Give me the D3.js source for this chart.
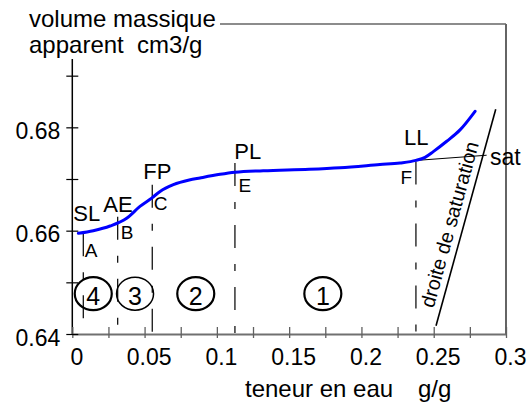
<!DOCTYPE html>
<html lang="fr">
<head>
  <meta charset="UTF-8" />
  <title>Courbe de retrait</title>
  <style>
    body {
      margin: 0;
      background: #fff;
    }

    svg {
      display: block;
      font-family: "Liberation Sans", Arial, sans-serif;
    }
  </style>
  <script src="https://d3js.org/d3.v7.min.js"></script>
</head>
<body>
  <svg id="chart" width="527" height="407"></svg>

  <script>
    // courbe de retrait : teneur en eau (g/g) et volume massique apparent (cm3/g)
    const teneur = [0.0042, 0.0145, 0.0261, 0.0376, 0.0468, 0.0549, 0.0607, 0.0699,
      0.0809, 0.0883, 0.1022, 0.1125, 0.1321, 0.1639, 0.1852, 0.2128, 0.2267,
      0.2377, 0.2440, 0.2497, 0.2590, 0.2682, 0.2786];
    const volume = [0.6595, 0.6600, 0.6609, 0.6624, 0.6647, 0.6663, 0.6676, 0.6689,
      0.6698, 0.6702, 0.6709, 0.6713, 0.6716, 0.6719, 0.6722, 0.6728, 0.6731,
      0.6736, 0.6742, 0.6753, 0.6773, 0.6795, 0.6831];

    // limites et points caracteristiques
    const limites = ["SL", "AE", "FP", "PL", "LL"];
    const points = ["A", "B", "C", "E", "F"];
    const limiteTeneur = [0.0076, 0.0314, 0.0553, 0.1125, 0.2377];
    const limiteVolume = [0.6595, 0.6627, 0.6689, 0.6731, 0.6734];

    // domaines numerotes
    const domaines = ["4", "3", "2", "1"];
    const domaineTeneur = [0.0145, 0.0434, 0.0854, 0.1733];
    const domaineVolume = 0.6478;

    // droite de saturation et ligne "sat"
    const saturationTeneur = [0.2516, 0.2929];
    const saturationVolume = [0.6416, 0.6835];
    const satTeneur = [0.2382, 0.2866];
    const satVolume = [0.6736, 0.6746];

    // graduations
    const xTicks = [0, 0.025, 0.05, 0.075, 0.1, 0.125, 0.15, 0.175, 0.2, 0.225, 0.25, 0.275, 0.3];
    const xLabelValues = [0, 0.05, 0.1, 0.15, 0.2, 0.25, 0.3];
    const xLabels = ["0", "0.05", "0.1", "0.15", "0.2", "0.25", "0.3"];
    const yTicks = [0.64, 0.65, 0.66, 0.67, 0.68, 0.69];
    const yLabelValues = [0.64, 0.66, 0.68];
    const yLabels = ["0.64", "0.66", "0.68"];

    // placement des etiquettes (decalages en px)
    const limiteDx = [-10, -14.4, -9, -0.7, -12];
    const limiteDy = [-12, -5, -5.4, -4, -16];
    const pointDx = [1.5, 3, 1.5, 3.5, -15.5];
    const pointDy = [23.5, 22.6, 25.3, 28.7, 23];

    const svg = d3.select("#chart");

    const x = d3.scaleLinear().domain([0, 0.3]).range([72.3, 506]);
    const y = d3.scaleLinear().domain([0.64, 0.70]).range([334, 24]);

    const near = (a, b) => Math.abs(a - b) < 1e-9;

    // cadre
    svg.append("line")
      .attr("x1", x(0.3)).attr("x2", x(0.3))
      .attr("y1", y(0.70)).attr("y2", y(0.64))
      .attr("stroke", "#111").attr("stroke-width", 1.3);
    svg.append("line")
      .attr("x1", x(0)).attr("x2", x(0.3))
      .attr("y1", y(0.70)).attr("y2", y(0.70))
      .attr("stroke", "#666").attr("stroke-width", 1.3);
    svg.append("line")
      .attr("x1", x(0)).attr("x2", x(0))
      .attr("y1", y(0.70)).attr("y2", y(0.64))
      .attr("stroke", "#000").attr("stroke-width", 1.5);

    // axe x
    const xAxis = svg.append("g")
      .attr("transform", `translate(0,${y(0.64)})`)
      .call(d3.axisBottom(x)
        .tickValues(xTicks)
        .tickSizeInner(4)
        .tickSizeOuter(0)
        .tickFormat(d => {
          const i = xLabelValues.findIndex(v => near(v, d));
          return i < 0 ? "" : xLabels[i];
        }));
    xAxis.select(".domain")
      .attr("stroke", "#707070")
      .attr("stroke-width", 2);
    xAxis.selectAll(".tick line")
      .attr("y1", -7)
      .attr("stroke", "#606060")
      .attr("stroke-width", 1.3);
    xAxis.selectAll(".tick text")
      .attr("y", 31)
      .attr("dy", null)
      .attr("dx", 4)
      .attr("fill", "#000")
      .style("font-size", "23px")
      .style("font-family", "'Liberation Sans', Arial, sans-serif");

    // axe y
    const yAxis = svg.append("g")
      .attr("transform", `translate(${x(0)},0)`)
      .call(d3.axisLeft(y)
        .tickValues(yTicks)
        .tickSizeInner(6)
        .tickSizeOuter(0)
        .tickFormat(d => {
          const i = yLabelValues.findIndex(v => near(v, d));
          return i < 0 ? "" : yLabels[i];
        }));
    yAxis.select(".domain").remove();
    yAxis.selectAll(".tick line")
      .attr("x1", 6)
      .attr("stroke", "#000")
      .attr("stroke-width", 1.2);
    yAxis.selectAll(".tick text")
      .attr("x", -12)
      .attr("y", 11)
      .attr("dy", null)
      .attr("fill", "#000")
      .style("font-size", "23px")
      .style("font-family", "'Liberation Sans', Arial, sans-serif");

    // titre de l'axe y (masque le haut du cadre)
    svg.append("rect")
      .attr("x", 0).attr("y", 0)
      .attr("width", 220).attr("height", 59)
      .attr("fill", "#fff");
    svg.append("text")
      .attr("x", 29).attr("y", 26.7)
      .style("font-size", "24px")
      .text("volume massique");
    svg.append("text")
      .attr("x", 29).attr("y", 52.7)
      .attr("xml:space", "preserve")
      .style("font-size", "24px")
      .style("white-space", "pre")
      .text("apparent  cm3/g");

    // titre de l'axe x
    svg.append("text")
      .attr("x", 245).attr("y", 397)
      .style("font-size", "24px")
      .text("teneur en eau");
    svg.append("text")
      .attr("x", 418).attr("y", 397)
      .style("font-size", "24px")
      .text("g/g");

    // lignes verticales des limites
    svg.selectAll(".limite")
      .data(limiteTeneur)
      .enter()
      .append("line")
      .attr("class", "limite")
      .attr("x1", d => x(d)).attr("x2", d => x(d))
      .attr("y1", (d, i) => y(limiteVolume[i]))
      .attr("y2", y(0.64))
      .attr("stroke", "#000")
      .attr("stroke-width", 1.2)
      .attr("stroke-dasharray", "23,16,7,16");

    svg.selectAll(".nom-limite")
      .data(limites)
      .enter()
      .append("text")
      .attr("class", "nom-limite")
      .attr("x", (d, i) => x(limiteTeneur[i]) + limiteDx[i])
      .attr("y", (d, i) => y(limiteVolume[i]) + limiteDy[i])
      .style("font-size", "22px")
      .text(d => d);

    svg.selectAll(".nom-point")
      .data(points)
      .enter()
      .append("text")
      .attr("class", "nom-point")
      .attr("x", (d, i) => x(limiteTeneur[i]) + pointDx[i])
      .attr("y", (d, i) => y(limiteVolume[i]) + pointDy[i])
      .style("font-size", "19px")
      .text(d => d);

    // domaines
    const dom = svg.selectAll(".domaine")
      .data(domaines)
      .enter()
      .append("g")
      .attr("class", "domaine")
      .attr("transform", (d, i) => `translate(${x(domaineTeneur[i])},${y(domaineVolume)})`);
    dom.append("ellipse")
      .attr("rx", 18.5).attr("ry", 16.5)
      .attr("fill", "none")
      .attr("stroke", "#000")
      .attr("stroke-width", d => d === "3" ? 1.5 : 2.2);
    dom.append("text")
      .attr("y", 11.5)
      .attr("text-anchor", "middle")
      .style("font-size", "25px")
      .text(d => d);

    // droite de saturation
    const s0 = [x(saturationTeneur[0]), y(saturationVolume[0])];
    const s1 = [x(saturationTeneur[1]), y(saturationVolume[1])];
    svg.append("line")
      .attr("x1", s0[0]).attr("y1", s0[1])
      .attr("x2", s1[0]).attr("y2", s1[1])
      .attr("stroke", "#000")
      .attr("stroke-width", 1.6);

    const angle = Math.atan2(s1[1] - s0[1], s1[0] - s0[0]) * 180 / Math.PI;
    const t = 0.07;
    svg.append("text")
      .attr("transform", `translate(${s0[0] + t * (s1[0] - s0[0])},${s0[1] + t * (s1[1] - s0[1])}) rotate(${angle})`)
      .attr("dy", -7)
      .style("font-size", "20px")
      .text("droite de saturation");

    // ligne sat
    svg.append("line")
      .attr("x1", x(satTeneur[0])).attr("y1", y(satVolume[0]))
      .attr("x2", x(satTeneur[1])).attr("y2", y(satVolume[1]))
      .attr("stroke", "#000")
      .attr("stroke-width", 1);
    svg.append("text")
      .attr("x", x(satTeneur[1]) + 3.3)
      .attr("y", y(satVolume[1]) + 10)
      .style("font-size", "23px")
      .text("sat");

    // courbe
    const courbe = d3.line()
      .x(d => x(d[0]))
      .y(d => y(d[1]))
      .curve(d3.curveMonotoneX);

    svg.append("path")
      .datum(teneur.map((w, i) => [w, volume[i]]))
      .attr("d", courbe)
      .attr("fill", "none")
      .attr("stroke", "#0000ff")
      .attr("stroke-width", 3)
      .attr("stroke-linecap", "round");
  </script>
</body>
</html>
